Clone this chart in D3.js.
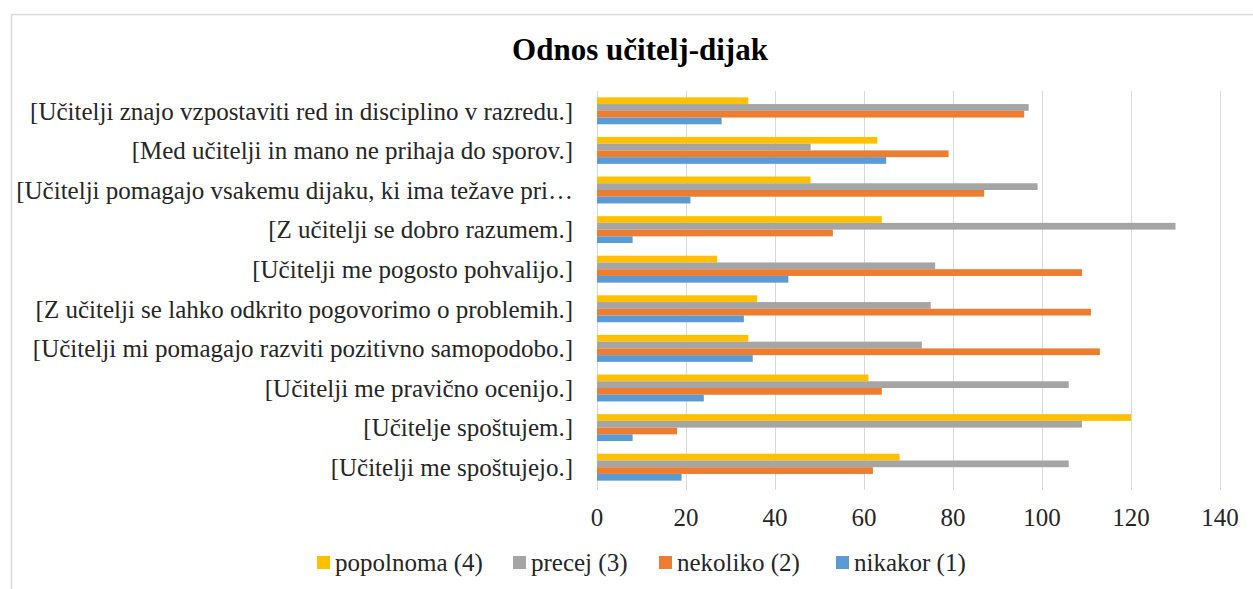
<!DOCTYPE html>
<html>
<head>
<meta charset="utf-8">
<script src="https://cdn.jsdelivr.net/npm/d3@7"></script>
<style>
  body { margin: 0; background: #fff; }
</style>
</head>
<body>
<svg id="chart" width="1253" height="589"></svg>
<script>
const fontFamily = "Liberation Serif";

// categories, top to bottom as shown
const categories = [
  "[Učitelji znajo vzpostaviti red in disciplino v razredu.]",
  "[Med učitelji in mano ne prihaja do sporov.]",
  "[Učitelji pomagajo vsakemu dijaku, ki ima težave pri…",
  "[Z učitelji se dobro razumem.]",
  "[Učitelji me pogosto pohvalijo.]",
  "[Z učitelji se lahko odkrito pogovorimo o problemih.]",
  "[Učitelji mi pomagajo razviti pozitivno samopodobo.]",
  "[Učitelji me pravično ocenijo.]",
  "[Učitelje spoštujem.]",
  "[Učitelji me spoštujejo.]"
];

const seriesNames = ["popolnoma (4)", "precej (3)", "nekoliko (2)", "nikakor (1)"];
const seriesColors = ["#FFC000", "#A5A5A5", "#ED7D31", "#5B9BD5"];

const popolnoma = [34, 63, 48, 64, 27, 36, 34, 61, 120, 68];
const precej    = [97, 48, 99, 130, 76, 75, 73, 106, 109, 106];
const nekoliko  = [96, 79, 87, 53, 109, 111, 113, 64, 18, 62];
const nikakor   = [28, 65, 21, 8, 43, 33, 35, 24, 8, 19];

const xTicks = [0, 20, 40, 60, 80, 100, 120, 140];

const seriesValues = [popolnoma, precej, nekoliko, nikakor];

const svg = d3.select('#chart');

// chart frame
svg.append('rect')
  .attr('x', 11.5).attr('y', 14.5)
  .attr('width', 1260).attr('height', 600)
  .attr('fill', 'none')
  .attr('stroke', '#d9d9d9')
  .attr('stroke-width', 1.5);

svg.append('text')
  .attr('x', 640).attr('y', 60)
  .attr('text-anchor', 'middle')
  .style('font-family', fontFamily)
  .style('font-size', '31px')
  .style('font-weight', 'bold')
  .style('fill', '#000')
  .text('Odnos učitelj-dijak');

let x = d3.scaleLinear()
  .domain([0, 140])
  .range([597, 1220]);

let y = d3.scaleBand()
  .domain(categories)
  .range([91, 487])
  .paddingInner(0.32)
  .paddingOuter(0.16);

let ySub = d3.scaleBand()
  .domain(seriesNames)
  .range([0, y.bandwidth()]);

// gridlines
svg.append('g')
  .selectAll('line')
  .data(xTicks)
  .enter()
  .append('line')
  .attr('x1', d => x(d) + 0.5)
  .attr('x2', d => x(d) + 0.5)
  .attr('y1', 91)
  .attr('y2', 490)
  .style('stroke', '#d9d9d9')
  .style('stroke-width', 1);

// bars
let groups = svg.append('g')
  .selectAll('g')
  .data(categories)
  .enter()
  .append('g')
  .attr('transform', d => 'translate(0,' + y(d) + ')');

groups.selectAll('rect')
  .data((d, i) => seriesNames.map((s, j) => ({ series: s, value: seriesValues[j][i], color: seriesColors[j] })))
  .enter()
  .append('rect')
  .attr('x', x(0))
  .attr('y', d => ySub(d.series))
  .attr('width', d => x(d.value) - x(0))
  .attr('height', ySub.bandwidth())
  .style('fill', d => d.color);

// category labels
svg.append('g')
  .selectAll('text')
  .data(categories)
  .enter()
  .append('text')
  .attr('x', 573)
  .attr('y', d => y(d) + y.bandwidth() / 2)
  .attr('dy', '0.35em')
  .attr('text-anchor', 'end')
  .style('font-family', fontFamily)
  .style('font-size', '25px')
  .style('fill', '#262626')
  .text(d => d);

// x tick labels
svg.append('g')
  .selectAll('text')
  .data(xTicks)
  .enter()
  .append('text')
  .attr('x', d => x(d))
  .attr('y', 526)
  .attr('text-anchor', 'middle')
  .style('font-family', fontFamily)
  .style('font-size', '25px')
  .style('fill', '#262626')
  .text(d => d);

// legend
const legendX = [317, 513, 659, 836];
let legend = svg.append('g')
  .selectAll('g')
  .data(seriesNames)
  .enter()
  .append('g')
  .attr('transform', (d, i) => 'translate(' + legendX[i] + ',563)');

legend.append('rect')
  .attr('x', 0).attr('y', -7)
  .attr('width', 13).attr('height', 13)
  .style('fill', (d, i) => seriesColors[i]);

legend.append('text')
  .attr('x', 18)
  .attr('y', 0)
  .attr('dy', '0.33em')
  .style('font-family', fontFamily)
  .style('font-size', '25px')
  .style('fill', '#262626')
  .text(d => d);
</script>
</body>
</html>
